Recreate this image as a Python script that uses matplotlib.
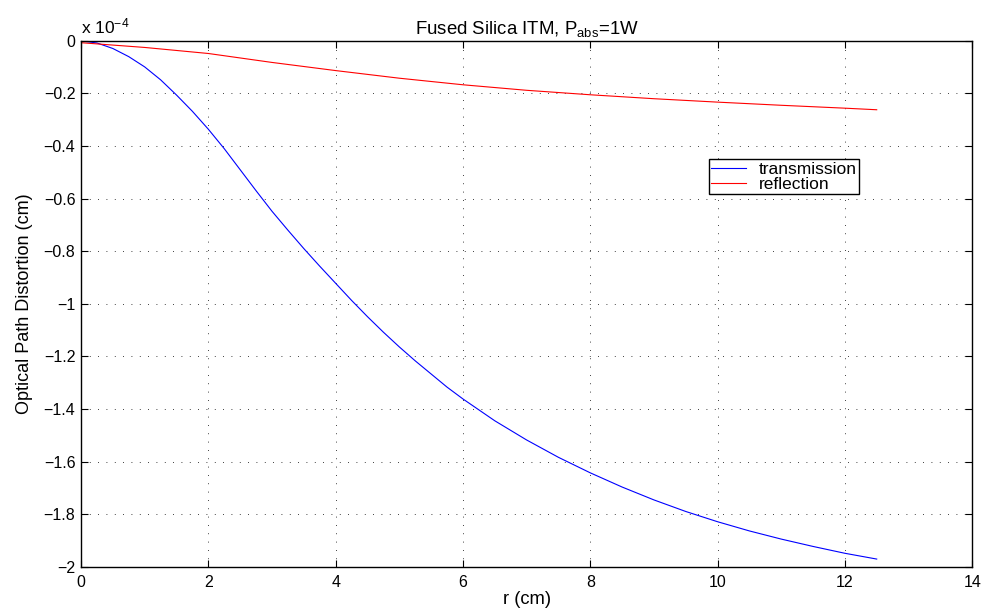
import numpy as np
import matplotlib
matplotlib.use("Agg")
import matplotlib.pyplot as plt
from matplotlib.ticker import FuncFormatter

plt.rcParams['font.family'] = ['Liberation Sans', 'DejaVu Sans']
plt.rcParams['mathtext.fontset'] = 'custom'
plt.rcParams['mathtext.rm'] = 'Liberation Sans'
plt.rcParams['mathtext.it'] = 'Liberation Sans:italic'
plt.rcParams['mathtext.default'] = 'regular'

# values in units of 1e-4 cm
SCALE_EXP = -4

r_trans = [0, 0.25, 0.5, 0.75, 1.0, 1.25, 1.5, 1.75, 2.0, 2.25, 2.5, 2.75,
           3.0, 3.25, 3.5, 3.75, 4.0, 4.25, 4.5, 4.75, 5.0, 5.25, 5.5, 5.75,
           6.0, 6.5, 7.0, 7.5, 8.0, 8.5, 9.0, 9.5, 10.0, 10.5, 11.0, 11.5,
           12.0, 12.5]
opd_trans = [0, -0.008, -0.029, -0.06, -0.099, -0.148, -0.206, -0.268,
             -0.336, -0.41, -0.49, -0.57, -0.648, -0.72, -0.79, -0.857,
             -0.922, -0.987, -1.049, -1.108, -1.164, -1.217, -1.267, -1.317,
             -1.362, -1.445, -1.518, -1.584, -1.643, -1.697, -1.746, -1.79,
             -1.829, -1.864, -1.895, -1.923, -1.949, -1.971]

r_refl = [0, 1, 2, 3, 4, 5, 6, 7, 8, 9, 10, 11, 12, 12.5]
opd_refl = [-0.007, -0.025, -0.048, -0.082, -0.113, -0.142, -0.167, -0.188,
            -0.205, -0.22, -0.233, -0.245, -0.256, -0.262]


def fmt_y(v, pos):
    v = round(v, 2)
    if v == 0:
        return '0'
    return ('%g' % v).replace('-', '\u2212')


fig = plt.figure(figsize=(9.88, 6.10), dpi=100)
ax = fig.add_axes([0.082, 0.071, 0.902, 0.862])

ax.plot(r_trans, opd_trans, color='#0000ff', lw=0.8, label='transmission')
ax.plot(r_refl, opd_refl, color='#ff0000', lw=0.8, label='reflection')

ax.set_xlim(0, 14)
ax.set_ylim(-2, 0)
ax.set_xticks(np.arange(0, 15, 2))
ax.set_yticks(np.arange(-2, 0.01, 0.2))
ax.yaxis.set_major_formatter(FuncFormatter(fmt_y))
ax.xaxis.set_major_formatter(FuncFormatter(lambda v, p: '%g' % v))
ax.tick_params(direction='in', top=True, right=True, length=5, width=0.8, labelsize=11.5)
ax.tick_params(axis='y', pad=4)
ax.tick_params(axis='x', pad=6)
ax.grid(True, color='black', linestyle=(0, (1, 9)), lw=0.6)
for s in ax.spines.values():
    s.set_linewidth(1.0)

ax.text(0, 1.014, r'x 10$^{%d}$' % SCALE_EXP, transform=ax.transAxes, fontsize=12.5,
        ha='left', va='baseline')

ax.set_title(r'Fused Silica ITM, P$_{\rm abs}$=1W', fontsize=13.4, pad=5)
ax.set_xlabel('r (cm)', fontsize=13.2, labelpad=1)
ax.set_ylabel('Optical Path Distortion (cm)', fontsize=13, labelpad=8)

leg = ax.legend(loc='upper left', bbox_to_anchor=(0.705, 0.7745), fontsize=12.5,
                frameon=True, fancybox=False, edgecolor='black', framealpha=1,
                handlelength=2.0, borderpad=0.12, labelspacing=0.02, handletextpad=0.75,
                borderaxespad=0)
leg.get_frame().set_linewidth(1.0)

fig.savefig('out.png', dpi=100)
